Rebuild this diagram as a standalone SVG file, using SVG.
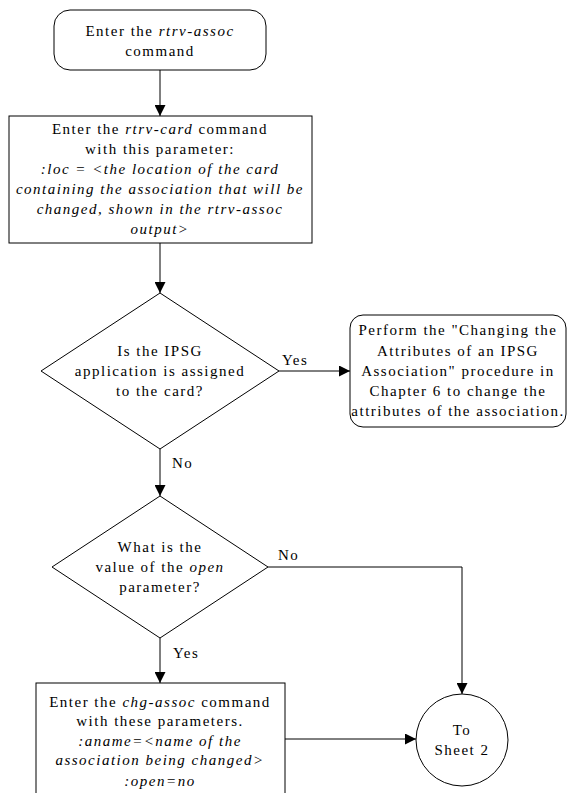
<svg xmlns="http://www.w3.org/2000/svg" width="567" height="793" viewBox="0 0 567 793">
<defs>
<marker id="arr" markerWidth="11" markerHeight="11" refX="11" refY="5.5" orient="auto" markerUnits="userSpaceOnUse">
<path d="M0,0 L11,5.5 L0,11 Z" fill="#000"/>
</marker>
<style>
.s{fill:#fff;stroke:#000;stroke-width:1}
.t{font-family:"Liberation Serif","Times New Roman",serif;font-size:15px;letter-spacing:1.5px;fill:#000;text-anchor:middle}
.l{font-family:"Liberation Serif","Times New Roman",serif;font-size:15px;letter-spacing:1.5px;fill:#000}
.c{fill:none;stroke:#000;stroke-width:1;marker-end:url(#arr)}
</style>
</defs>
<rect width="567" height="793" fill="#fff"/>
<g id="connectors">
<path class="c" d="M160,70 L160,116"/>
<path class="c" d="M160,243 L160,293"/>
<path class="c" d="M279,371 L350,371"/>
<path class="c" d="M160,449 L160,496"/>
<path class="c" d="M268,567 L462,567 L462,694"/>
<path class="c" d="M160,638 L160,683"/>
<path class="c" d="M285,739 L416,739"/>
<text class="l" x="282" y="365">Yes</text>
<text class="l" x="172" y="468">No</text>
<text class="l" x="278" y="560">No</text>
<text class="l" x="173" y="658">Yes</text>
</g>
<g id="start">
<rect class="s" x="54" y="10" width="212" height="60" rx="16" ry="16"/>
<text class="t" x="160" y="36">Enter the <tspan font-style="italic">rtrv-assoc</tspan></text>
<text class="t" x="160" y="56">command</text>
</g>
<g id="rtrv-card">
<rect class="s" x="9" y="116" width="303" height="127"/>
<text class="t" x="160" y="134">Enter the <tspan font-style="italic">rtrv-card</tspan> command</text>
<text class="t" x="160" y="154">with this parameter:</text>
<text class="t" x="160" y="174" font-style="italic">:loc = &lt;the location of the card</text>
<text class="t" x="160" y="194" font-style="italic">containing the association that will be</text>
<text class="t" x="160" y="214" font-style="italic">changed, shown in the rtrv-assoc</text>
<text class="t" x="160" y="234" font-style="italic">output&gt;</text>
</g>
<g id="ipsg-decision">
<polygon class="s" points="160,293 279,371 160,449 41,371"/>
<text class="t" x="160" y="356">Is the IPSG</text>
<text class="t" x="160" y="376">application is assigned</text>
<text class="t" x="160" y="396">to the card?</text>
</g>
<g id="perform">
<rect class="s" x="350" y="315" width="216" height="112" rx="13" ry="13"/>
<text class="t" x="458" y="335">Perform the "Changing the</text>
<text class="t" x="458" y="356">Attributes of an IPSG</text>
<text class="t" x="458" y="376">Association" procedure in</text>
<text class="t" x="458" y="396">Chapter 6 to change the</text>
<text class="t" x="458" y="416">attributes of the association.</text>
</g>
<g id="open-decision">
<polygon class="s" points="160,496 268,567 160,638 52,567"/>
<text class="t" x="160" y="552">What is the</text>
<text class="t" x="160" y="572">value of the <tspan font-style="italic">open</tspan></text>
<text class="t" x="160" y="592">parameter?</text>
</g>
<g id="chg-assoc">
<rect class="s" x="36" y="683" width="249" height="130"/>
<text class="t" x="160" y="707">Enter the <tspan font-style="italic">chg-assoc</tspan> command</text>
<text class="t" x="160" y="726">with these parameters.</text>
<text class="t" x="160" y="746" font-style="italic">:aname=&lt;name of the</text>
<text class="t" x="160" y="765" font-style="italic">association being changed&gt;</text>
<text class="t" x="160" y="786" font-style="italic">:open=no</text>
</g>
<g id="sheet2">
<circle class="s" cx="462" cy="740" r="46"/>
<text class="t" x="462" y="735">To</text>
<text class="t" x="462" y="755">Sheet 2</text>
</g>
</svg>
